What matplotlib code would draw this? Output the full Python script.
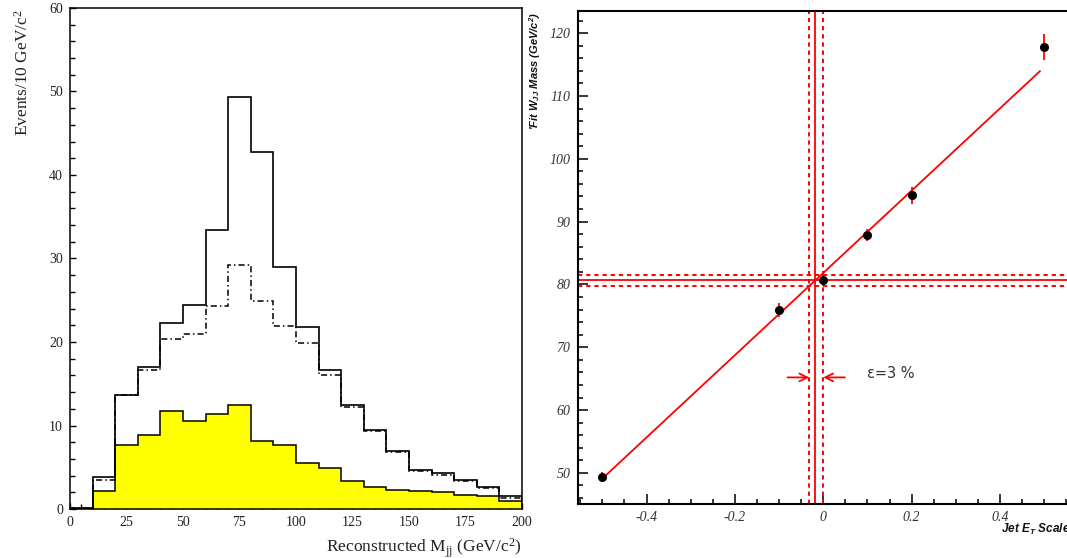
import numpy as np
import matplotlib
matplotlib.use("Agg")
import matplotlib.pyplot as plt
from matplotlib.ticker import MultipleLocator, FixedLocator

plt.rcParams["mathtext.fontset"] = "custom"
plt.rcParams["mathtext.rm"] = "Liberation Serif"
plt.rcParams["mathtext.it"] = "Liberation Serif:italic"
plt.rcParams["mathtext.bf"] = "Liberation Sans:bold:italic"
plt.rcParams["mathtext.sf"] = "Liberation Sans"

# left panel: reconstructed dijet mass histograms (10 GeV bins)
bin_edges = np.arange(0, 210, 10)
total_counts = [0.1, 3.8, 13.6, 17.0, 22.3, 24.4, 33.4, 49.3, 42.8, 29.0,
                21.8, 16.7, 12.4, 9.5, 6.9, 4.7, 4.3, 3.5, 2.6, 1.6]
dashdot_counts = [0.1, 3.5, 13.6, 16.6, 20.3, 20.9, 24.3, 29.2, 24.9, 21.9,
                  19.9, 16.0, 12.2, 9.4, 6.8, 4.6, 4.1, 3.4, 2.5, 1.3]
filled_counts = [0.0, 2.2, 7.7, 8.9, 11.7, 10.5, 11.4, 12.4, 8.1, 7.7,
                 5.5, 4.9, 3.3, 2.6, 2.3, 2.1, 2.0, 1.7, 1.5, 0.9]

# right panel: fitted W mass vs jet energy scale shift
scale_shift = [-0.5, -0.1, 0.0, 0.1, 0.2, 0.5]
fit_mass = [49.3, 75.9, 80.66, 87.85, 94.17, 117.77]
fit_mass_err = [0.8, 1.1, 0.9, 0.95, 1.35, 2.1]
line_slope = 65.5
line_intercept = 81.84
line_range = [-0.5, 0.49]
w_mass = 80.66
w_mass_band = [79.7, 81.58]
scale_center = -0.018
scale_band = [-0.032, 0.0]
arrow_y = 65.2
arrow_left_start = -0.081
arrow_right_start = 0.049
eps_label = "ε=3 %"

fig = plt.figure(figsize=(10.67, 5.58), dpi=100)

# ---------------- left panel ----------------
ax1 = fig.add_axes([0.0656, 0.0878, 0.4236, 0.8979])
ax1.stairs(filled_counts, bin_edges, fill=True, color="#ffff00", zorder=2)
ax1.stairs(filled_counts, bin_edges, color="black", lw=1.1, zorder=3)
ax1.stairs(total_counts, bin_edges, color="black", lw=1.2, zorder=3)
ax1.stairs(dashdot_counts, bin_edges, color="black", lw=1.1,
           linestyle=(0, (4, 2, 1, 2)), zorder=4)
ax1.set_xlim(0, 200)
ax1.set_ylim(0, 60)
ax1.xaxis.set_major_locator(MultipleLocator(25))
ax1.xaxis.set_minor_locator(MultipleLocator(5))
ax1.yaxis.set_major_locator(MultipleLocator(10))
ax1.yaxis.set_minor_locator(MultipleLocator(2))
ax1.tick_params(which="both", direction="in", top=False, right=False,
                labelsize=10, labelcolor="#222222", width=1.0)
ax1.tick_params(which="major", length=4.5, pad=5)
ax1.tick_params(which="minor", length=3.3)
for lab in ax1.get_xticklabels() + ax1.get_yticklabels():
    lab.set_fontfamily("Liberation Serif")
for sp in ax1.spines.values():
    sp.set_linewidth(1.1)
fig.text(0.021, 0.983, "Events/10 GeV/c$^{2}$", rotation=90, ha="center",
         va="top", fontsize=12.5, family="Liberation Serif", color="#222222")
fig.text(0.4892, 0.018, "Reconstructed M$_{\\mathrm{jj}}$ (GeV/c$^{2}$)",
         ha="right", va="center", fontsize=12.5, family="Liberation Serif",
         color="#222222")

# ---------------- right panel ----------------
ax2 = fig.add_axes([0.5413, 0.0968, 0.4606, 0.8832])
ax2.set_xlim(-0.556, 0.556)
ax2.set_ylim(45.05, 123.5)

dotted = (0, (2.2, 2.0))
ax2.axvline(scale_center, color="red", lw=1.3, zorder=2)
for xv in scale_band:
    ax2.axvline(xv, color="red", lw=1.4, linestyle=dotted, zorder=2)
ax2.axhline(w_mass, color="red", lw=1.3, zorder=2)
for yv in w_mass_band:
    ax2.axhline(yv, color="red", lw=1.4, linestyle=dotted, zorder=2)

xs = np.array(line_range)
ax2.plot(xs, line_intercept + line_slope * xs, color="red", lw=1.3, zorder=3)
ax2.errorbar(scale_shift, fit_mass, yerr=fit_mass_err, fmt="o", color="black",
             ms=5.5, ecolor="red", elinewidth=1.3, capsize=0, zorder=4)

arrow_kw = dict(arrowstyle="->", color="red", lw=1.3, mutation_scale=14,
                shrinkA=0, shrinkB=0)
ax2.annotate("", xy=(scale_band[0], arrow_y), xytext=(arrow_left_start, arrow_y),
             arrowprops=arrow_kw)
ax2.annotate("", xy=(scale_band[1], arrow_y), xytext=(arrow_right_start, arrow_y),
             arrowprops=arrow_kw)
ax2.text(0.1, arrow_y + 0.6, eps_label, ha="left", va="center", fontsize=10.5,
         family="DejaVu Sans", color="#333333")

ax2.xaxis.set_major_locator(FixedLocator([-0.4, -0.2, 0.0, 0.2, 0.4]))
ax2.xaxis.set_minor_locator(MultipleLocator(0.05))
ax2.yaxis.set_major_locator(MultipleLocator(10))
ax2.yaxis.set_minor_locator(MultipleLocator(2))
ax2.tick_params(which="both", direction="in", top=False, right=False,
                labelsize=10, labelcolor="#333333", width=1.1)
ax2.tick_params(which="major", length=7, pad=5)
ax2.tick_params(which="minor", length=3.5)
ax2.set_xticklabels(["-0.4", "-0.2", "0", "0.2", "0.4"])
for lab in ax2.get_xticklabels() + ax2.get_yticklabels():
    lab.set_fontfamily("Liberation Serif")
    lab.set_fontstyle("italic")
for sp in ax2.spines.values():
    sp.set_linewidth(1.5)

fig.text(0.9385, 0.051, "Jet $\\mathbf{E_T}$ Scale", ha="left", va="center",
         fontsize=8.5, family="Liberation Sans", weight="bold", style="italic",
         color="#111111")
fig.text(0.5015, 0.978, "'Fit $\\mathbf{W_{JJ}}$ Mass (GeV/c$^{\\mathbf{2}}$)",
         rotation=90, ha="center", va="top", fontsize=8,
         family="Liberation Sans", weight="bold", style="italic",
         color="#111111")

fig.savefig("out.png", dpi=100)
